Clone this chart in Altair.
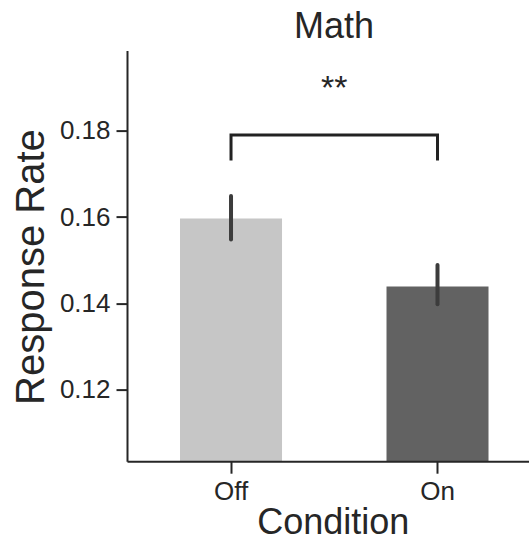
import altair as alt
import pandas as pd

conditions = ["Off", "On"]
rates = [0.1597, 0.1439]
err_low = [0.1548, 0.1398]
err_high = [0.1649, 0.1489]
bar_colors = ["#c6c6c6", "#626262"]

bracket_x = ["Off", "Off", "On", "On"]
bracket_y = [0.1731, 0.17905, 0.17905, 0.1731]
bracket_order = [0, 1, 2, 3]

star_text = ["**"]
star_x = ["Off"]
star_y = [0.1897]

y_ticks = [0.12, 0.14, 0.16, 0.18]
y_domain = [0.1034, 0.1986]

FONT = "Liberation Sans"
INK = "#262626"

W = 402
pad_inner = 0.506
pad_outer = 0.2264
step = W / (2 - pad_inner + 2 * pad_outer)

bars_df = pd.DataFrame({"Condition": conditions, "rate": rates,
                        "lo": err_low, "hi": err_high})
bracket_df = pd.DataFrame({"Condition": bracket_x, "y": bracket_y, "o": bracket_order})
star_df = pd.DataFrame({"Condition": star_x, "y": star_y, "t": star_text})

x_scale = alt.Scale(domain=conditions, paddingInner=pad_inner,
                    paddingOuter=pad_outer, align=0.567)
y_scale = alt.Scale(domain=y_domain, nice=False, zero=False)

x_axis = alt.Axis(title="Condition", labelAngle=0, labelFontSize=26,
                  labelFont=FONT, labelColor=INK, labelBaseline="alphabetic",
                  labelPadding=26, tickSize=12, tickWidth=2, tickColor=INK,
                  domainColor=INK, domainWidth=2, titleFontSize=36,
                  titleFont=FONT, titleFontWeight="normal", titleColor=INK,
                  titleBaseline="alphabetic", titleX=205.8, titleY=72.3,
                  titleAlign="center", grid=False, zindex=1)
y_axis = alt.Axis(title="Response Rate", values=y_ticks, format=".2f",
                  labelFontSize=26, labelFont=FONT, labelColor=INK,
                  labelPadding=6, tickSize=11, tickWidth=2, tickColor=INK,
                  domainColor=INK, domainWidth=2, titleFontSize=40,
                  titleFont=FONT, titleFontWeight="normal", titleColor=INK,
                  titleAngle=270, titleBaseline="alphabetic", titleAlign="center",
                  titleX=-84, titleY=216, grid=False, zindex=1)

base = alt.Chart(bars_df)
bars = base.mark_bar(clip=True).encode(
    x=alt.X("Condition:N", scale=x_scale, axis=x_axis, sort=conditions),
    y=alt.Y("rate:Q", scale=y_scale, axis=y_axis),
    color=alt.Color("Condition:N", scale=alt.Scale(domain=conditions, range=bar_colors), legend=None),
)
errs = base.mark_rule(color="#3c3c3c", strokeWidth=4, strokeCap="round").encode(
    x=alt.X("Condition:N", sort=conditions),
    y=alt.Y("lo:Q"),
    y2="hi:Q",
)
bracket = alt.Chart(bracket_df).mark_line(color="#222222", strokeWidth=3,
                                          strokeJoin="miter").encode(
    x=alt.X("Condition:N", sort=conditions),
    y=alt.Y("y:Q"),
    order="o:Q",
)
stars = alt.Chart(star_df).mark_text(fontSize=34, font=FONT, color=INK,
                                     baseline="middle", dx=step * pad_inner / 2).encode(
    x=alt.X("Condition:N", sort=conditions, bandPosition=1),
    y=alt.Y("y:Q"),
    text="t:N",
)

chart = alt.layer(bars, errs, bracket, stars).properties(
    width=W, height=410.6,
    title=alt.TitleParams("Math", fontSize=36, font=FONT, fontWeight="normal",
                          color=INK, baseline="alphabetic", offset=11.6, dx=6, dy=35),
    autosize=alt.AutoSizeParams(type="none"),
    padding={"left": 127, "top": 50.6, "right": 0, "bottom": 79.8},
    background="white",
).configure_view(stroke=None)

chart.save("out.html", embed_options={"renderer": "svg", "actions": False})
